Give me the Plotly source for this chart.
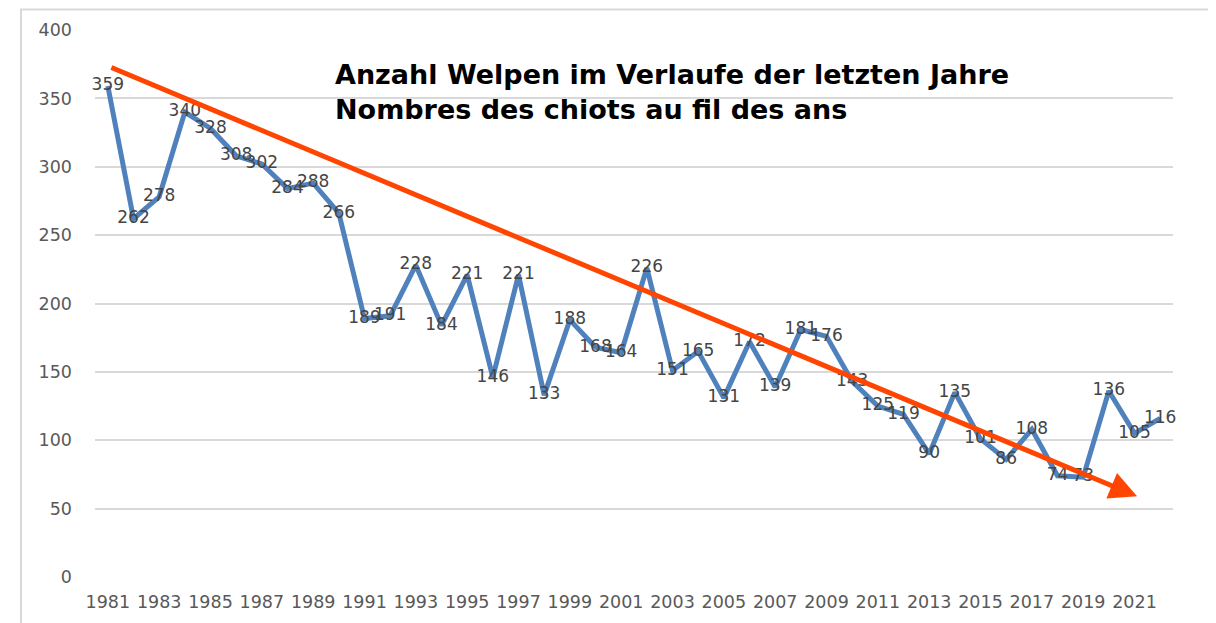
import plotly.graph_objects as go

years = [str(y) for y in range(1981, 2023)]
welpen = [359, 262, 278, 340, 328, 308, 302, 284, 288, 266,
          189, 191, 228, 184, 221, 146, 221, 133, 188, 168,
          164, 226, 151, 165, 131, 172, 139, 181, 176, 143,
          125, 119, 90, 135, 101, 86, 108, 74, 73, 136,
          105, 116]
tick_years = years[0::2]
trend_start = (0.08, 373)
trend_end = (40.1, 59)
title_lines = ["Anzahl Welpen im Verlaufe der letzten Jahre",
               "Nombres des chiots au fil des ans"]

FONT = "DejaVu Sans"

fig = go.Figure()
fig.add_trace(go.Scatter(
    x=years, y=welpen, mode="lines+text",
    line=dict(color="#4F81BD", width=5),
    text=[str(v) for v in welpen], textposition="middle center",
    textfont=dict(family=FONT, size=17, color="#454545"),
    cliponaxis=False,
    hoverinfo="x+y", showlegend=False,
))

fig.add_annotation(
    x=trend_end[0], y=trend_end[1], ax=trend_start[0], ay=trend_start[1],
    xref="x", yref="y", axref="x", ayref="y",
    showarrow=True, arrowhead=2, arrowsize=1.1, arrowwidth=5,
    arrowcolor="#FF4500", text="",
)

fig.add_annotation(
    x=(333 - 95) / 1078, y=(577 - 57) / 547, xref="paper", yref="paper",
    xanchor="left", yanchor="top", align="left", showarrow=False,
    text="<b>" + "<br>".join(title_lines) + "</b>",
    font=dict(family=FONT, size=27, color="#000000"),
)

fig.add_shape(type="rect", xref="paper", yref="paper",
              x0=(21 - 95) / 1078, x1=(1211 - 95) / 1078,
              y0=-0.2, y1=(577 - 9.5) / 547,
              line=dict(color="#d9d9d9", width=2), layer="below")

fig.update_layout(
    width=1216, height=623,
    margin=dict(l=87, r=51, t=22, b=54),
    paper_bgcolor="white", plot_bgcolor="white",
    xaxis=dict(type="category", range=[-0.5, 41.5],
               tickmode="array", tickvals=tick_years, ticktext=tick_years,
               showgrid=False, showline=False, ticks="", ticklabelstandoff=12,
               tickfont=dict(family=FONT, size=17.5, color="#595959")),
    yaxis=dict(range=[0, 400], dtick=50, showgrid=True, gridcolor="#d9d9d9", gridwidth=2,
               zeroline=False, showline=False, ticks="", ticklabelstandoff=22,
               tickfont=dict(family=FONT, size=17.5, color="#595959")),
)

fig.write_html("out.html")
